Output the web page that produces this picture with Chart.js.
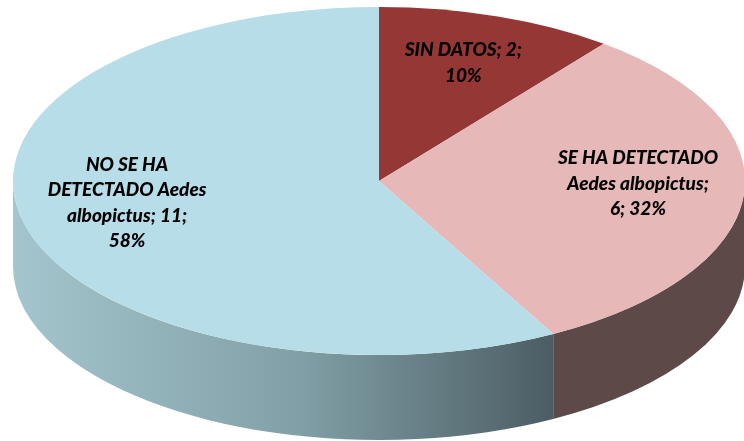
<!DOCTYPE html>
<html>
<head>
<meta charset="utf-8">
<script src="https://cdn.jsdelivr.net/npm/chart.js@4/dist/chart.umd.min.js"></script>
<style>
  html, body { margin: 0; padding: 0; background: #fff; }
  #wrap { width: 744px; height: 441px; }
</style>
</head>
<body>
<div id="wrap"><canvas id="myChart" width="744" height="441"></canvas></div>
<script>
  const categories = ['SIN DATOS', 'SE HA DETECTADO Aedes albopictus', 'NO SE HA DETECTADO Aedes albopictus'];
  const counts = [2, 6, 11];
  const percents = ['10%', '32%', '58%'];
  const labelLines = [
    ['SIN DATOS; 2;', '10%'],
    ['SE HA DETECTADO', 'Aedes albopictus;', '6; 32%'],
    ['NO SE HA', 'DETECTADO Aedes', 'albopictus; 11;', '58%']
  ];
  const topColors = ['#953735', '#e6b9b8', '#b7dde8'];

  // look of the fake 3d disc
  const stretchX = 366 / 174;
  const depth = 85;

  function wallFill(ctx, i) {
    if (i == 1) return '#5d4a48';
    if (i == 0) return '#5e2221';
    let g = ctx.createLinearGradient(14, 0, 590, 0);
    g.addColorStop(0, '#a4c5cd');
    g.addColorStop(0.5, '#819fa6');
    g.addColorStop(1, '#44535a');
    return g;
  }

  const pie3d = {
    id: 'pie3d',
    beforeDatasetsDraw(chart) {
      const ctx = chart.ctx;
      const meta = chart.getDatasetMeta(0);
      const x = meta.data[0].x, y = meta.data[0].y, r = meta.data[0].outerRadius;

      // side walls, only the front half shows
      meta.data.forEach(function(arc, i) {
        let a0 = Math.max(arc.startAngle, 0);
        let a1 = Math.min(arc.endAngle, Math.PI);
        if (a1 <= a0) return;
        ctx.save();
        ctx.translate(x, y); ctx.scale(stretchX, 1); ctx.translate(-x, -y);
        ctx.beginPath();
        ctx.arc(x, y + depth, r, a0, a1);
        ctx.arc(x, y, r, a1, a0, true);
        ctx.closePath();
        ctx.restore();
        ctx.fillStyle = wallFill(ctx, i);
        ctx.fill();
      });

      // squash the top face into an ellipse
      ctx.save();
      ctx.translate(x, y); ctx.scale(stretchX, 1); ctx.translate(-x, -y);
    },
    afterDatasetsDraw(chart) {
      const ctx = chart.ctx;
      ctx.restore();
      const meta = chart.getDatasetMeta(0);
      ctx.save();
      ctx.font = 'italic 900 19px Lato';
      ctx.fillStyle = '#000';
      ctx.textAlign = 'center';
      ctx.textBaseline = 'middle';
      meta.data.forEach(function(arc, i) {
        const mid = (arc.startAngle + arc.endAngle) / 2;
        const f = 0.71;
        const px = arc.x + arc.outerRadius * stretchX * f * Math.cos(mid);
        const py = arc.y - 7 + arc.outerRadius * f * 0.95 * Math.sin(mid);
        const lines = labelLines[i];
        const lh = 25.5;
        lines.forEach(function(t, k) {
          ctx.fillText(t, px, py + (k - (lines.length - 1) / 2) * lh);
        });
      });
      ctx.restore();
    }
  };

  let ctx = document.getElementById('myChart').getContext('2d');

  let chart = new Chart(ctx, {
    type: 'pie',
    data: {
      labels: categories,
      datasets: [{
        data: counts,
        backgroundColor: topColors,
        borderWidth: 0,
        clip: false
      }]
    },
    options: {
      responsive: false,
      animation: false,
      events: [],
      layout: {
        padding: { left: 205, right: 191, top: 7, bottom: 86 }
      },
      plugins: {
        legend: { display: false },
        tooltip: { enabled: false }
      }
    },
    plugins: [pie3d]
  });
</script>
</body>
</html>
